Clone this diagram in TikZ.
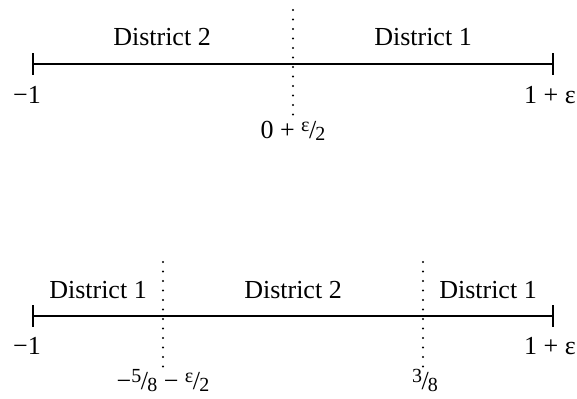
\documentclass[tikz,border=0pt]{standalone}
\usepackage{fontspec}
\setmainfont{Liberation Serif}
\usetikzlibrary{positioning}
\newcommand{\slfrac}[2]{\raisebox{0.55ex}{\fontsize{10}{11}\selectfont #1}\kern-0.02em/\kern-0.03em\raisebox{-0.2ex}{\fontsize{10}{11}\selectfont #2}}
\tikzset{
  axisline/.style={line width=1pt},
  splitline/.style={line width=1.1pt, dash pattern=on 0pt off 4.75pt, line cap=round},
  dlabel/.style={font=\fontsize{13}{15}\selectfont, anchor=base, inner sep=0pt},
}

\begin{document}
\begin{tikzpicture}[x=0.5pt,y=-0.5pt]
  \useasboundingbox (0,0) rectangle (577,398);
  % Top interval
  \coordinate (topL) at (33,64);
  \coordinate (topR) at (553,64);
  \coordinate (topS) at (293,64);
  \draw[axisline] (topL) -- (topR);
  \draw[axisline] (topL) ++(0,-11) -- ++(0,22);
  \draw[axisline] (topR) ++(0,-11) -- ++(0,22);
  \draw[splitline] (topS) ++(0,-54) -- ++(0,105);
  \node[dlabel] (topD2) at (162,45) {District 2};
  \node[dlabel] (topD1) at (423,45) {District 1};
  \node[dlabel] (topMin) at (27,103) {−1};
  \node[dlabel] (topMax) at (550,103) {1 + ε};
  \node[dlabel] (topCut) at (293,138) {0 + \slfrac{ε}{2}};
  % Bottom interval
  \coordinate (botL) at (33,316);
  \coordinate (botR) at (553,316);
  \coordinate (botSa) at (163,316);
  \coordinate (botSb) at (423,316);
  \draw[axisline] (botL) -- (botR);
  \draw[axisline] (botL) ++(0,-11) -- ++(0,22);
  \draw[axisline] (botR) ++(0,-11) -- ++(0,22);
  \draw[splitline] (botSa) ++(0,-54) -- ++(0,105);
  \draw[splitline] (botSb) ++(0,-54) -- ++(0,105);
  \node[dlabel] (botD1a) at (98,298) {District 1};
  \node[dlabel] (botD2) at (293,298) {District 2};
  \node[dlabel] (botD1b) at (488,298) {District 1};
  \node[dlabel] (botMin) at (27,354) {−1};
  \node[dlabel] (botMax) at (550,354) {1 + ε};
  \node[dlabel] (botCutA) at (163,389) {−\slfrac{5}{8} − \slfrac{ε}{2}};
  \node[dlabel] (botCutB) at (425,389) {\slfrac{3}{8}};
\end{tikzpicture}
\end{document}
